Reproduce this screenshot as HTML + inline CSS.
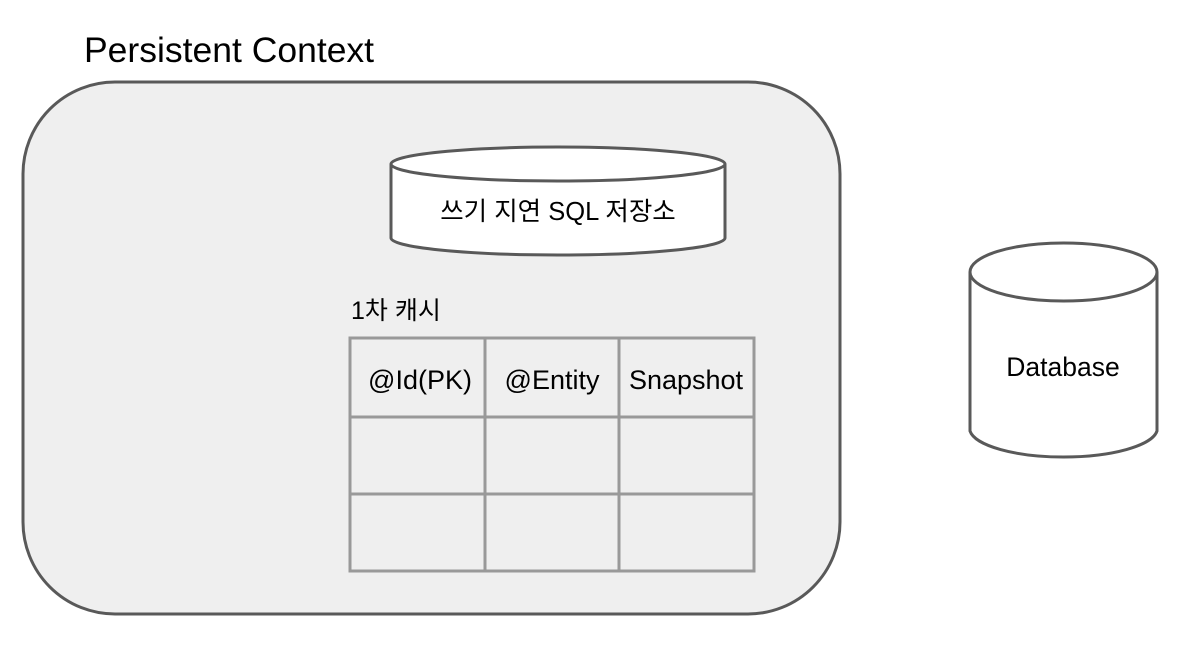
<!DOCTYPE html>
<html><head><meta charset="utf-8"><style>
html,body{margin:0;padding:0;background:#fff;}
svg text{font-family:"Liberation Sans","Noto Sans CJK KR",sans-serif;fill:#000;}
</style></head><body>
<svg width="1185" height="647" viewBox="0 0 1185 647" xmlns="http://www.w3.org/2000/svg">
<text x="84" y="62" font-size="35.5">Persistent Context</text>
<rect x="23" y="82" width="817" height="532" rx="92" ry="92" fill="#efefef" stroke="#595959" stroke-width="3"/>
<path d="M391,164 L391,238 A167,17 0 0 0 725,238 L725,164" fill="#fff" stroke="#595959" stroke-width="3"/>
<ellipse cx="558" cy="164" rx="167" ry="17" fill="#fff" stroke="#595959" stroke-width="3"/>
<text x="558" y="220" font-size="25.5" text-anchor="middle">쓰기 지연 SQL 저장소</text>
<text x="351" y="319" font-size="25">1차 캐시</text>
<g stroke="#999" stroke-width="3" fill="none">
<rect x="350" y="338" width="404" height="233"/>
<line x1="485" y1="338" x2="485" y2="571"/>
<line x1="619" y1="338" x2="619" y2="571"/>
<line x1="350" y1="417" x2="754" y2="417"/>
<line x1="350" y1="494" x2="754" y2="494"/>
</g>
<text x="420" y="389" font-size="27" text-anchor="middle">@Id(PK)</text>
<text x="552" y="389" font-size="27" text-anchor="middle">@Entity</text>
<text x="686" y="389" font-size="27" text-anchor="middle">Snapshot</text>
<path d="M970,272 L970,431 A94,29 0 0 0 1157,431 L1157,272" fill="#fff" stroke="#595959" stroke-width="3"/>
<ellipse cx="1063.5" cy="272" rx="93.5" ry="29" fill="#fff" stroke="#595959" stroke-width="3"/>
<text x="1063" y="376" font-size="26.5" text-anchor="middle">Database</text>
</svg>
</body></html>
